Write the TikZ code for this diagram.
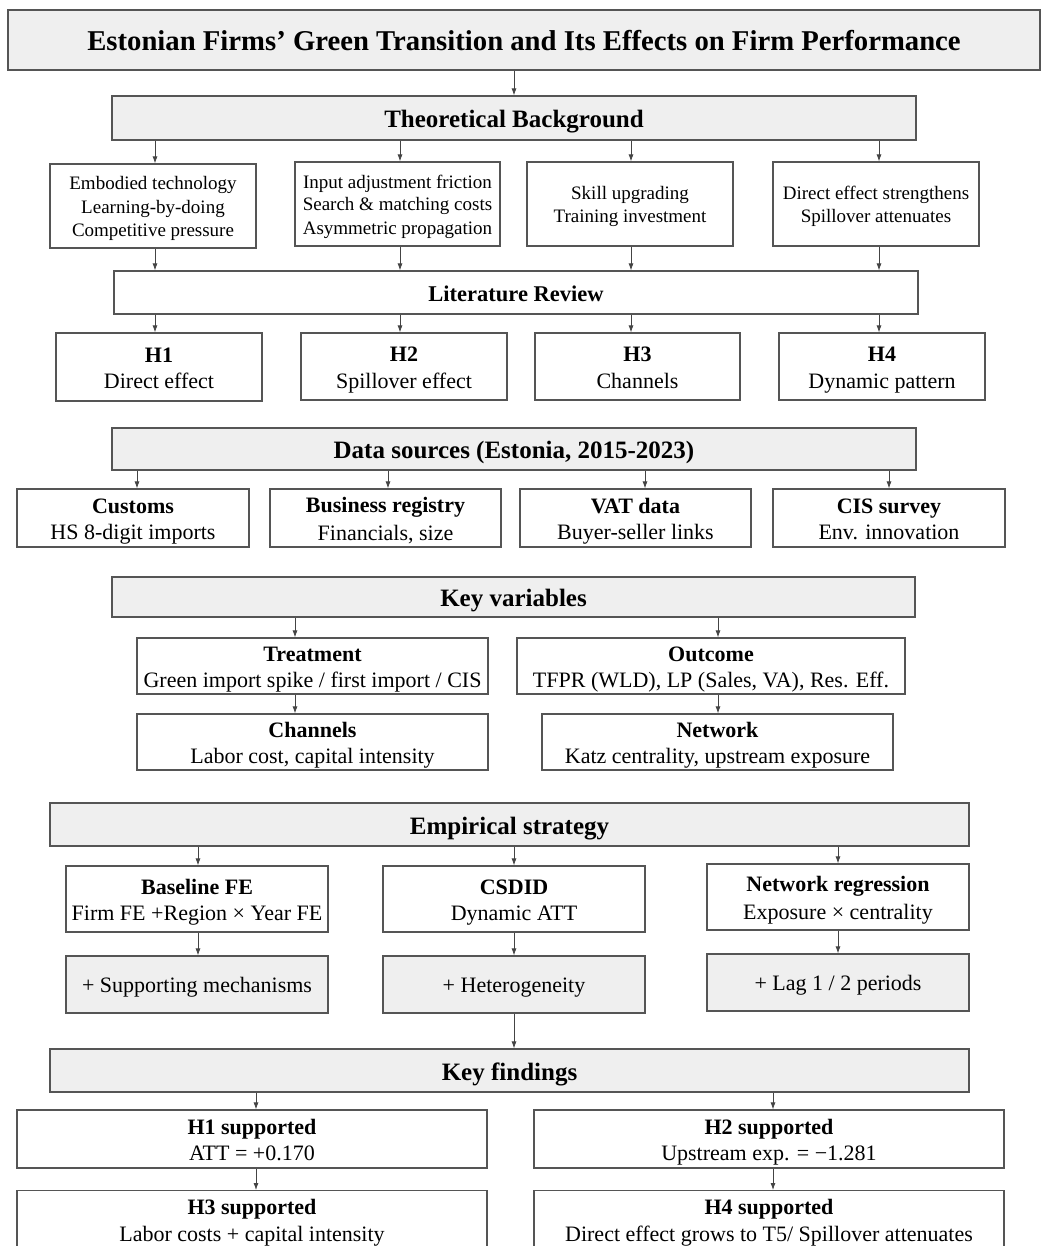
\documentclass[tikz,border=0pt]{standalone}
\usepackage{fontspec}
\setmainfont{Liberation Serif}
\usetikzlibrary{arrows.meta}
\definecolor{bordercol}{HTML}{555555}
\definecolor{grayfill}{HTML}{EFEFEF}
\definecolor{arrcol}{HTML}{444444}
\newcommand{\bx}[7]{\node[#6, minimum width={#4-#2}, minimum height={#5-#3}] (#1) at ({(#2+#4)/2},{(#3+#5)/2}) {#7};}
\newcommand{\ms}{\rule[-0.18\baselineskip]{0pt}{\baselineskip}}
\newcommand{\tl}[2]{{\bfseries #1}\ms\\#2\ms}
\begin{document}
\begin{tikzpicture}[x=1pt,y=-1pt,
  basebox/.style={draw=bordercol, line width=1.2pt, rectangle, inner sep=0pt, align=center, text=black},
  gbox/.style={basebox, fill=grayfill},
  wbox/.style={basebox, fill=white},
  titlef/.style={font=\fontsize{28.7}{34}\selectfont\bfseries, execute at begin node=\ms},
  headf/.style={font=\fontsize{25}{30}\selectfont\bfseries, execute at begin node=\ms},
  lrf/.style={font=\fontsize{22.5}{27}\selectfont\bfseries, execute at begin node=\ms},
  bodyf/.style={font=\fontsize{22}{26.5}\selectfont},
  theof/.style={font=\fontsize{19}{22.5}\selectfont},
  arr/.style={draw=arrcol, line width=0.8pt, -{Latex[length=7pt,width=5pt]}}
]
\fill[white] (0,0) rectangle (1049,1246);
\useasboundingbox (0,0) rectangle (1049,1246);

% column coordinates
\coordinate (ca1) at (155,0); \coordinate (ca2) at (400,0);
\coordinate (ca3) at (631,0); \coordinate (ca4) at (879,0);
\coordinate (cd1) at (137,0); \coordinate (cd2) at (388,0);
\coordinate (cd3) at (645,0); \coordinate (cd4) at (889,0);
\coordinate (ck1) at (295,0); \coordinate (ck2) at (718,0);
\coordinate (ce1) at (198,0); \coordinate (ce2) at (514,0); \coordinate (ce3) at (838,0);
\coordinate (cf1) at (256,0); \coordinate (cf2) at (773,0);

% title
\bx{title}{8}{10}{1040}{70}{gbox,titlef}{Estonian Firms’ Green Transition and Its Effects on Firm Performance}

% theoretical background
\bx{tb}{112}{96}{916}{140}{gbox,headf}{Theoretical Background}
\bx{t1}{50}{164}{256}{248}{wbox,theof}{Embodied technology\ms\\Learning-by-doing\ms\\Competitive pressure\ms}
\bx{t2}{295}{162}{500}{246}{wbox,theof}{Input adjustment friction\ms\\Search \& matching costs\ms\\Asymmetric propagation\ms}
\bx{t3}{527}{162}{733}{246}{wbox,theof}{Skill upgrading\ms\\Training investment\ms}
\bx{t4}{773}{162}{979}{246}{wbox,theof}{Direct effect strengthens\ms\\Spillover attenuates\ms}

% literature review
\bx{lr}{114}{271}{918}{314}{wbox,lrf}{Literature Review}
\bx{h1}{56}{333}{262}{401}{wbox,bodyf}{\tl{H1}{Direct effect}}
\bx{h2}{301}{333}{507}{400}{wbox,bodyf}{\tl{H2}{Spillover effect}}
\bx{h3}{535}{333}{740}{400}{wbox,bodyf}{\tl{H3}{Channels}}
\bx{h4}{779}{333}{985}{400}{wbox,bodyf}{\tl{H4}{Dynamic pattern}}

% data sources
\bx{ds}{112}{428}{916}{470}{gbox,headf}{Data sources (Estonia, 2015-2023)}
\bx{d1}{17}{489}{249}{547}{wbox,bodyf}{\tl{Customs}{HS 8-digit imports}}
\bx{d2}{270}{489}{501}{547}{wbox,bodyf}{\tl{Business registry}{Financials, size}}
\bx{d3}{520}{489}{751}{547}{wbox,bodyf}{\tl{VAT data}{Buyer-seller links}}
\bx{d4}{773}{489}{1005}{547}{wbox,bodyf}{\tl{CIS survey}{Env. innovation}}

% key variables
\bx{kv}{112}{577}{915}{617}{gbox,headf}{Key variables}
\bx{tr}{137}{638}{488}{694}{wbox,bodyf}{\tl{Treatment}{Green import spike / first import / CIS}}
\bx{oc}{517}{638}{905}{694}{wbox,bodyf}{\tl{Outcome}{TFPR (WLD), LP (Sales, VA), Res. Eff.}}
\bx{ch}{137}{714}{488}{770}{wbox,bodyf}{\tl{Channels}{Labor cost, capital intensity}}
\bx{nw}{542}{714}{893}{770}{wbox,bodyf}{\tl{Network}{Katz centrality, upstream exposure}}

% empirical strategy
\bx{es}{50}{803}{969}{846}{gbox,headf}{Empirical strategy}
\bx{bf}{66}{866}{328}{932}{wbox,bodyf}{\tl{Baseline FE}{Firm FE +Region × Year FE}}
\bx{cs}{383}{866}{645}{932}{wbox,bodyf}{\tl{CSDID}{Dynamic ATT}}
\bx{nr}{707}{864}{969}{930}{wbox,bodyf}{\tl{Network regression}{Exposure × centrality}}
\bx{sm}{66}{956}{328}{1013}{gbox,bodyf}{+ Supporting mechanisms\ms}
\bx{he}{383}{956}{645}{1013}{gbox,bodyf}{+ Heterogeneity\ms}
\bx{lg}{707}{954}{969}{1011}{gbox,bodyf}{+ Lag 1 / 2 periods\ms}

% key findings
\bx{kf}{50}{1049}{969}{1092}{gbox,headf}{Key findings}
\bx{f1}{17}{1110}{487}{1168}{wbox,bodyf}{\tl{H1 supported}{ATT = +0.170}}
\bx{f2}{534}{1110}{1004}{1168}{wbox,bodyf}{\tl{H2 supported}{Upstream exp. = −1.281}}
\node[wbox, minimum width=470, minimum height=72, anchor=north] (f3) at (252,1190) {};
\node[bodyf, align=center, anchor=north, inner sep=0pt] (f3t) at (252,1193) {\tl{H3 supported}{Labor costs + capital intensity}};
\node[wbox, minimum width=470, minimum height=72, anchor=north] (f4) at (769,1190) {};
\node[bodyf, align=center, anchor=north, inner sep=0pt] (f4t) at (769,1193) {\tl{H4 supported}{Direct effect grows to T5/ Spillover attenuates}};

% connectors
\draw[arr] (title.south -| tb.north) -- (tb.north);
\foreach \i in {1,2,3,4}{
  \draw[arr] (tb.south -| ca\i) -- (t\i.north -| ca\i);
  \draw[arr] (t\i.south -| ca\i) -- (lr.north -| ca\i);
  \draw[arr] (lr.south -| ca\i) -- (h\i.north -| ca\i);
  \draw[arr] (ds.south -| cd\i) -- (d\i.north -| cd\i);
}
\draw[arr] (kv.south -| ck1) -- (tr.north -| ck1);
\draw[arr] (kv.south -| ck2) -- (oc.north -| ck2);
\draw[arr] (tr.south -| ck1) -- (ch.north -| ck1);
\draw[arr] (oc.south -| ck2) -- (nw.north -| ck2);
\draw[arr] (es.south -| ce1) -- (bf.north -| ce1);
\draw[arr] (es.south -| ce2) -- (cs.north -| ce2);
\draw[arr] (es.south -| ce3) -- (nr.north -| ce3);
\draw[arr] (bf.south -| ce1) -- (sm.north -| ce1);
\draw[arr] (cs.south -| ce2) -- (he.north -| ce2);
\draw[arr] (nr.south -| ce3) -- (lg.north -| ce3);
\draw[arr] (he.south -| ce2) -- (kf.north -| ce2);
\draw[arr] (kf.south -| cf1) -- (f1.north -| cf1);
\draw[arr] (kf.south -| cf2) -- (f2.north -| cf2);
\draw[arr] (f1.south -| cf1) -- (f3.north -| cf1);
\draw[arr] (f2.south -| cf2) -- (f4.north -| cf2);
\end{tikzpicture}
\end{document}
